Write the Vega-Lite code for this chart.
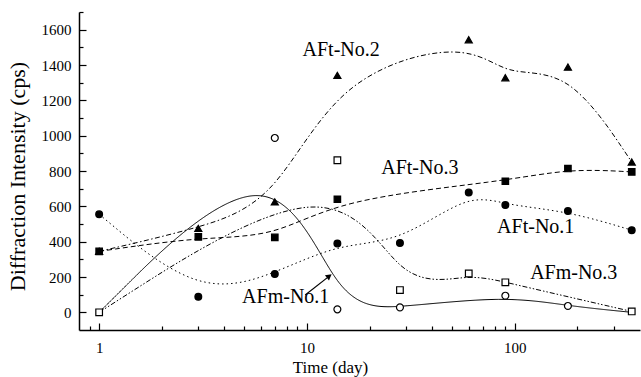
{
  "$schema": "https://vega.github.io/schema/vega-lite/v6.json",
  "width": 561,
  "height": 318,
  "autosize": "none",
  "padding": {"left": 79, "top": 12, "right": 1, "bottom": 47},
  "background": "white",
  "config": {
    "view": {"stroke": null},
    "font": "Liberation Serif, Times New Roman, DejaVu Serif, serif",
    "axis": {
      "domainColor": "black", "domainWidth": 1.5, "tickColor": "black", "tickWidth": 1.2,
      "labelColor": "black", "titleColor": "black", "grid": false,
      "labelFont": "Liberation Serif, Times New Roman, DejaVu Serif, serif",
      "titleFont": "Liberation Serif, Times New Roman, DejaVu Serif, serif",
      "titleFontWeight": "normal", "labelFontSize": 15
    }
  },
  "resolve": {"axis": {"x": "independent", "y": "independent"}},
  "datasets": {
    "obs": [
      {"series": "AFt-No.2", "day": 1, "value": 345},
      {"series": "AFt-No.2", "day": 3, "value": 475},
      {"series": "AFt-No.2", "day": 7, "value": 625},
      {"series": "AFt-No.2", "day": 14, "value": 1341},
      {"series": "AFt-No.2", "day": 60, "value": 1543},
      {"series": "AFt-No.2", "day": 90, "value": 1328},
      {"series": "AFt-No.2", "day": 180, "value": 1388},
      {"series": "AFt-No.2", "day": 365, "value": 851},
      {"series": "AFt-No.3", "day": 1, "value": 345},
      {"series": "AFt-No.3", "day": 3, "value": 427},
      {"series": "AFt-No.3", "day": 7, "value": 424},
      {"series": "AFt-No.3", "day": 14, "value": 640},
      {"series": "AFt-No.3", "day": 90, "value": 742},
      {"series": "AFt-No.3", "day": 180, "value": 814},
      {"series": "AFt-No.3", "day": 365, "value": 795},
      {"series": "AFt-No.1", "day": 1, "value": 555},
      {"series": "AFt-No.1", "day": 3, "value": 88},
      {"series": "AFt-No.1", "day": 7, "value": 217},
      {"series": "AFt-No.1", "day": 14, "value": 390},
      {"series": "AFt-No.1", "day": 28, "value": 393},
      {"series": "AFt-No.1", "day": 60, "value": 678},
      {"series": "AFt-No.1", "day": 90, "value": 607},
      {"series": "AFt-No.1", "day": 180, "value": 573},
      {"series": "AFt-No.1", "day": 365, "value": 465},
      {"series": "AFm-No.1", "day": 1, "value": 0},
      {"series": "AFm-No.1", "day": 7, "value": 987},
      {"series": "AFm-No.1", "day": 14, "value": 17},
      {"series": "AFm-No.1", "day": 28, "value": 28},
      {"series": "AFm-No.1", "day": 90, "value": 94},
      {"series": "AFm-No.1", "day": 180, "value": 36},
      {"series": "AFm-No.1", "day": 365, "value": 0},
      {"series": "AFm-No.3", "day": 1, "value": 0},
      {"series": "AFm-No.3", "day": 14, "value": 861},
      {"series": "AFm-No.3", "day": 28, "value": 126},
      {"series": "AFm-No.3", "day": 60, "value": 220},
      {"series": "AFm-No.3", "day": 90, "value": 170},
      {"series": "AFm-No.3", "day": 365, "value": 5}
    ],
    "labels": [
      {"label": "AFt-No.2", "day": 14.6, "value": 1483},
      {"label": "AFt-No.3", "day": 34.9, "value": 816},
      {"label": "AFt-No.1", "day": 126, "value": 484},
      {"label": "AFm-No.3", "day": 192, "value": 222},
      {"label": "AFm-No.1", "day": 7.9, "value": 88}
    ],
    "arrow": [
      {"day": 9.8, "value": 98, "day2": 12.8, "value2": 205}
    ]
  },
  "layer": [
    {
      "data": {"name": "obs"},
      "mark": {"type": "line", "interpolate": "basis", "color": "black", "strokeWidth": 1},
      "encoding": {
        "x": {
          "field": "day", "type": "quantitative",
          "scale": {"type": "log", "domain": [0.8, 400], "nice": false},
          "axis": {
            "orient": "bottom",
            "title": "Time (day)", "titleFontSize": 17, "titleX": 251, "titleY": 37, "titleBaseline": "middle",
            "values": [1, 10, 100], "format": "d",
            "ticks": false,
            "labelPadding": 10, "labelOverlap": false, "labelFlush": false
          }
        },
        "y": {
          "field": "value", "type": "quantitative",
          "scale": {"domain": [-100, 1700], "nice": false, "zero": false},
          "axis": {
            "orient": "left",
            "title": "Diffraction Intensity (cps)", "titleFontSize": 22,
            "titleX": -62, "titleY": 164, "titleBaseline": "middle", "titleAngle": -90,
            "values": [0, 200, 400, 600, 800, 1000, 1200, 1400, 1600], "format": "d",
            "ticks": false,
            "labelPadding": 8, "labelOverlap": false, "labelFlush": false
          }
        },
        "detail": {"field": "series"},
        "strokeDash": {
          "field": "series", "type": "nominal", "legend": null,
          "scale": {
            "domain": ["AFt-No.2", "AFt-No.3", "AFt-No.1", "AFm-No.1", "AFm-No.3"],
            "range": [[5, 2.5, 1.5, 2.5], [5, 3], [1.5, 3], [1, 0], [5, 2, 1.5, 2, 1.5, 2]]
          }
        }
      }
    },
    {
      "data": {"name": "obs"},
      "transform": [{"filter": "!(datum.series == 'AFm-No.1' && (datum.day == 1 || datum.day == 365))"}],
      "mark": {"type": "point", "opacity": 1, "stroke": "black", "strokeWidth": 1.2},
      "encoding": {
        "x": {
          "field": "day", "type": "quantitative",
          "axis": {
            "orient": "top", "offset": -318, "title": null, "labels": false, "domain": false,
            "values": [1, 10, 100], "tickSize": 7
          }
        },
        "y": {
          "field": "value", "type": "quantitative",
          "axis": {
            "orient": "right", "offset": -561, "title": null, "labels": false, "domain": false,
            "values": [0, 200, 400, 600, 800, 1000, 1200, 1400, 1600], "tickSize": 7
          }
        },
        "shape": {
          "field": "series", "type": "nominal", "legend": null,
          "scale": {
            "domain": ["AFt-No.3", "AFm-No.3", "AFt-No.1", "AFm-No.1", "AFt-No.2"],
            "range": ["square", "square", "circle", "circle", "triangle-up"]
          }
        },
        "fill": {
          "field": "series", "type": "nominal", "legend": null,
          "scale": {
            "domain": ["AFt-No.3", "AFm-No.3", "AFt-No.1", "AFm-No.1", "AFt-No.2"],
            "range": ["black", "white", "black", "white", "black"]
          }
        },
        "size": {
          "field": "series", "type": "nominal", "legend": null,
          "scale": {
            "domain": ["AFt-No.3", "AFm-No.3", "AFt-No.1", "AFm-No.1", "AFt-No.2"],
            "range": [42, 50, 55, 48, 80]
          }
        }
      }
    },
    {
      "data": {"name": "labels"},
      "mark": {"type": "text", "font": "Liberation Serif, Times New Roman, DejaVu Serif, serif", "fontSize": 20, "color": "black", "align": "center", "baseline": "middle"},
      "encoding": {
        "x": {
          "field": "day", "type": "quantitative",
          "axis": {
            "orient": "top", "offset": -318, "title": null, "labels": false, "domain": false,
            "values": [0.9, 2, 3, 4, 5, 6, 7, 8, 9, 20, 30, 40, 50, 60, 70, 80, 90, 200, 300], "tickSize": 4
          }
        },
        "y": {
          "field": "value", "type": "quantitative",
          "axis": {
            "orient": "right", "offset": -561, "title": null, "labels": false, "domain": false,
            "values": [100, 300, 500, 700, 900, 1100, 1300, 1500, 1700], "tickSize": 4
          }
        },
        "text": {"field": "label"}
      }
    },
    {
      "data": {"name": "arrow"},
      "mark": {"type": "rule", "color": "black", "strokeWidth": 1.2},
      "encoding": {
        "x": {"field": "day", "type": "quantitative", "axis": null},
        "y": {"field": "value", "type": "quantitative", "axis": null},
        "x2": {"field": "day2"},
        "y2": {"field": "value2"}
      }
    },
    {
      "data": {"name": "arrow"},
      "mark": {"type": "point", "shape": "triangle-up", "filled": true, "color": "black", "opacity": 1, "size": 45, "angle": 53},
      "encoding": {
        "x": {"field": "day2", "type": "quantitative", "axis": null},
        "y": {"field": "value2", "type": "quantitative", "axis": null}
      }
    }
  ]
}
